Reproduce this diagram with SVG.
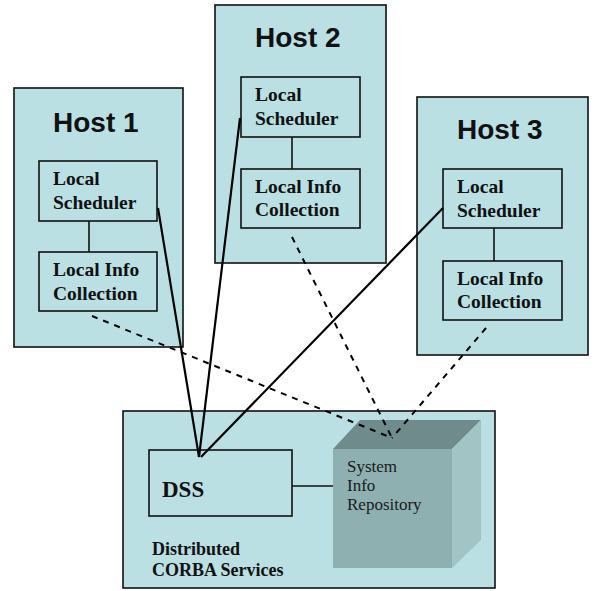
<svg xmlns="http://www.w3.org/2000/svg" width="599" height="591" viewBox="0 0 599 591">
<style>
.host{fill:#bae0e3;stroke:#111;stroke-width:1.6}
.box{fill:#bae0e3;stroke:#111;stroke-width:1.6}
.ht{font-family:"Liberation Sans",Arial,sans-serif;font-weight:bold;font-size:28px;fill:#111}
.bt{font-family:"Liberation Serif","Times New Roman",serif;font-weight:bold;font-size:19.5px;fill:#111}
.rt{font-family:"Liberation Serif","Times New Roman",serif;font-size:17px;fill:#1a1a1a}
.link{stroke:#111;stroke-width:1.6;fill:none}
.solid{stroke:#000;stroke-width:2.2;fill:none}
.dash{stroke:#000;stroke-width:2;fill:none;stroke-dasharray:6 6}
</style>
<rect width="599" height="591" fill="#fff"/>
<g id="host1">
<rect class="host" x="14" y="88" width="169" height="259"/>
<text class="ht" x="53" y="132">Host 1</text>
<rect class="box" x="39" y="161" width="118" height="60"/>
<text class="bt" x="53" y="185">Local</text>
<text class="bt" x="53" y="209">Scheduler</text>
<line class="link" x1="89" y1="221" x2="89" y2="252"/>
<rect class="box" x="39" y="252" width="118" height="59"/>
<text class="bt" x="53" y="276">Local Info</text>
<text class="bt" x="53" y="300">Collection</text>
</g>
<g id="host2">
<rect class="host" x="215" y="5" width="171" height="258"/>
<text class="ht" x="255" y="47">Host 2</text>
<rect class="box" x="241" y="77" width="119" height="60"/>
<text class="bt" x="255" y="101">Local</text>
<text class="bt" x="255" y="125">Scheduler</text>
<line class="link" x1="292" y1="137" x2="292" y2="169"/>
<rect class="box" x="241" y="169" width="119" height="59"/>
<text class="bt" x="255" y="193">Local Info</text>
<text class="bt" x="255" y="216">Collection</text>
</g>
<g id="host3">
<rect class="host" x="417" y="97" width="171" height="258"/>
<text class="ht" x="457" y="139">Host 3</text>
<rect class="box" x="443" y="169" width="119" height="59"/>
<text class="bt" x="457" y="193">Local</text>
<text class="bt" x="457" y="217">Scheduler</text>
<line class="link" x1="494" y1="228" x2="494" y2="261"/>
<rect class="box" x="443" y="261" width="119" height="59"/>
<text class="bt" x="457" y="285">Local Info</text>
<text class="bt" x="457" y="308">Collection</text>
</g>
<g id="corba">
<rect class="host" x="123" y="411" width="372" height="177"/>
<text class="bt" x="152" y="555" style="font-size:18px">Distributed</text>
<text class="bt" x="152" y="576" style="font-size:18px">CORBA Services</text>
</g>
<g id="dss">
<rect class="box" x="149" y="450" width="143" height="66"/>
<text class="bt" x="162" y="497" style="font-size:23px">DSS</text>
</g>
<g id="repository">
<polygon points="333,449 360,420 481,420 452,449" fill="#6f8b8c"/>
<polygon points="452,449 481,420 481,540 452,568" fill="#a2c4c5"/>
<rect x="333" y="449" width="119" height="119" fill="#8eb0b1"/>
<text class="rt" x="347" y="472">System</text>
<text class="rt" x="347" y="491">Info</text>
<text class="rt" x="347" y="510">Repository</text>
</g>
<g id="connectors">
<line class="link" x1="292" y1="486" x2="333" y2="486"/>
<line class="solid" x1="158" y1="208" x2="199" y2="457"/>
<line class="solid" x1="240" y1="118" x2="199" y2="457"/>
<line class="solid" x1="443" y1="208" x2="201" y2="457"/>
<line class="dash" x1="92" y1="316" x2="392" y2="438"/>
<line class="dash" x1="292" y1="237" x2="392" y2="438"/>
<line class="dash" x1="486" y1="328" x2="392" y2="438"/>
</g>
</svg>
